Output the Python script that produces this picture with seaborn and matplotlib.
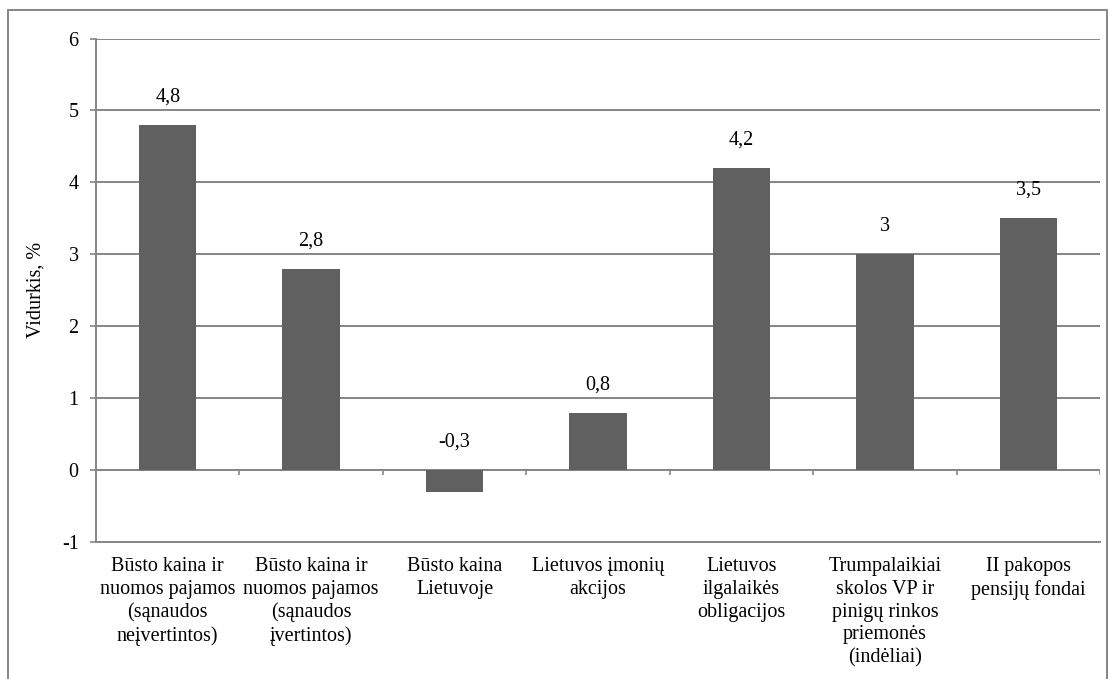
import matplotlib
matplotlib.use("Agg")
import matplotlib.pyplot as plt
from matplotlib.patches import Rectangle
import seaborn as sns
import pandas as pd

categories = [
    "Būsto kaina ir\nnuomos pajamos\n(sąnaudos\nneįvertintos)",
    "Būsto kaina ir\nnuomos pajamos\n(sąnaudos\nįvertintos)",
    "Būsto kaina\nLietuvoje",
    "Lietuvos įmonių\nakcijos",
    "Lietuvos\nilgalaikės\nobligacijos",
    "Trumpalaikiai\nskolos VP ir\npinigų rinkos\npriemonės\n(indėliai)",
    "II pakopos\npensijų fondai",
]
values = [4.8, 2.8, -0.3, 0.8, 4.2, 3.0, 3.5]
value_labels = ["4,8", "2,8", "-0,3", "0,8", "4,2", "3", "3,5"]
y_ticks = [-1, 0, 1, 2, 3, 4, 5, 6]
y_label = "Vidurkis, %"

sns.set_theme(style="white")
plt.rcParams["font.family"] = ["Liberation Serif", "DejaVu Serif"]
FS = 14.5
plt.rcParams["font.size"] = FS

GRID = "#868686"
BAR = "#606060"

fig = plt.figure(figsize=(11.09, 6.79), dpi=100)
ax = fig.add_axes([96 / 1109, 1 - 542 / 679, (1100 - 96) / 1109, (542 - 38.5) / 679])

df = pd.DataFrame({"cat": categories, "val": values})
sns.barplot(data=df, x="cat", y="val", color=BAR, saturation=1, width=0.4,
            ax=ax, zorder=3, edgecolor="none")

ax.set_ylim(-1, 6)
ax.set_xlim(-0.5, len(categories) - 0.5)
ax.set_yticks(y_ticks)
ax.set_yticklabels([str(t) for t in y_ticks], fontsize=FS, color="black")
ax.yaxis.grid(True, color=GRID, linewidth=1.4, zorder=0)
ax.set_axisbelow(True)

for s in ["top", "right"]:
    ax.spines[s].set_visible(False)
for s in ["left", "bottom"]:
    ax.spines[s].set_color(GRID)
    ax.spines[s].set_linewidth(1.4)

ax.tick_params(axis="y", length=4.5, width=1.2, color=GRID, pad=8, left=True)
ax.tick_params(axis="x", length=0, pad=11, labelsize=FS, labelcolor="black")
ax.set_xlabel("")
ax.set_ylabel(y_label, fontsize=FS, color="black", labelpad=12)
for lbl in ax.get_xticklabels():
    lbl.set_ha("center")
    lbl.set_va("top")
    lbl.set_linespacing(1.26)
    lbl.set_multialignment("center")

# category axis along zero with separator ticks
ax.axhline(0, color=GRID, linewidth=1.4, zorder=2)
boundaries = [i + 0.5 for i in range(len(categories))]
ax.vlines(boundaries, -0.07, 0, color=GRID, linewidth=1.2, zorder=2)

# value labels above bars (above the zero line for negatives)
for i, (v, txt) in enumerate(zip(values, value_labels)):
    ax.annotate(txt, xy=(i, max(v, 0)), xytext=(0, 20), textcoords="offset points",
                ha="center", va="center", fontsize=FS, color="black")

# chart frame
fig.add_artist(Rectangle((8 / 1109, -0.02), (1107 - 8) / 1109, 1 - 9.5 / 679 + 0.02,
                         transform=fig.transFigure, fill=False, edgecolor=GRID,
                         linewidth=1.4))

fig.savefig("out.png", dpi=100)
